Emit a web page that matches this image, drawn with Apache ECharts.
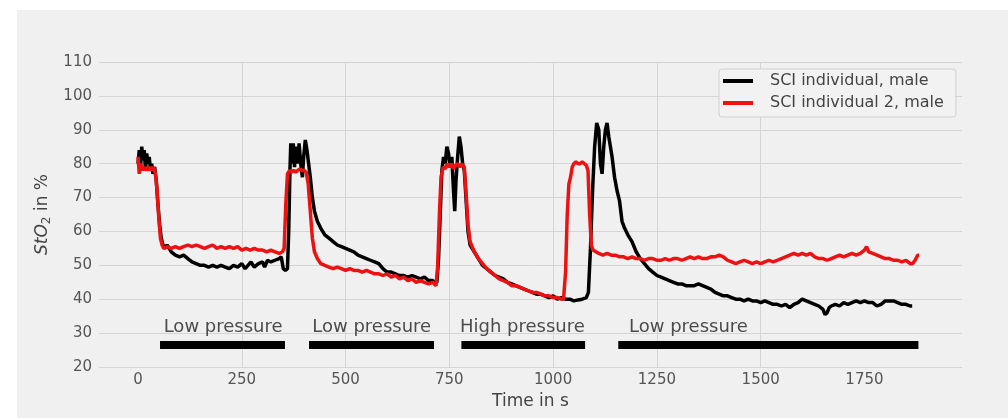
<!DOCTYPE html>
<html>
<head>
<meta charset="utf-8">
<script src="https://cdn.jsdelivr.net/npm/echarts@6/dist/echarts.min.js"></script>
<style>
html,body{margin:0;padding:0;background:#ffffff;}
#bg{position:absolute;left:17px;top:10px;width:991px;height:408px;background:#f0f0f0;}
#c{position:absolute;left:0;top:0;width:1008px;height:418px;}
</style>
</head>
<body>
<div id="bg"></div>
<div id="c"></div>
<script>
// ---- data ----
const seriesNames = ['SCI individual, male', 'SCI individual 2, male'];

const black = [[0,80],[3,84],[6,79],[9,85],[12,81],[15,84],[18,78],[21,83],[24,80],[27,82],[30,78],[33,80],[36,77],[40,79],[44,75],[48,68],[52,62],[56,58],[60,56],[65,55],[70,56],[75,55],[80,54],[90,53],[100,52.5],[110,53],[120,52],[130,51],[140,50.5],[150,50],[160,50],[170,49.5],[180,50],[190,49.5],[200,50],[210,49.5],[220,49],[230,50],[240,49.5],[250,50.5],[258,49],[265,50],[272,51],[280,49.5],[290,50.5],[300,51],[305,49.5],[312,51.5],[320,51],[330,51.5],[340,52],[345,52.5],[350,49],[355,48.5],[360,49],[363,60],[366,78],[368,86],[371,80],[374,86],[377,79],[380,85],[384,80],[388,86],[392,80],[396,76],[399,82],[403,87],[407,84],[411,80],[415,76],[420,70],[425,66],[432,63],[440,61],[450,59],[460,58],[470,57],[480,56],[490,55.5],[500,55],[510,54.5],[520,54],[530,53],[540,52.5],[550,52],[560,51.5],[570,51],[580,50.5],[590,49],[600,48],[610,48],[620,47.5],[630,47],[640,47],[650,46.5],[660,47],[670,46.5],[680,46],[690,46.5],[700,45.5],[710,45.5],[715,45],[720,45],[724,52],[728,65],[732,78],[736,82],[740,80],[744,85],[748,83],[752,79],[756,82],[760,72],[763,66],[766,75],[770,82],[774,88],[778,85],[782,80],[786,78],[790,70],[795,60],[800,56],[810,54],[820,52],[830,50],[840,49],[850,48],[860,47],[870,46.5],[880,46],[890,45],[900,44.5],[910,44],[920,43.5],[930,43],[940,42.5],[950,42],[960,41.5],[970,41.5],[980,41],[990,40.5],[1000,41],[1010,40],[1020,40.5],[1030,40],[1040,40],[1050,39.5],[1060,39.8],[1070,40],[1080,40.5],[1085,42],[1090,55],[1095,72],[1100,85],[1105,92],[1110,90],[1114,80],[1118,77],[1122,85],[1126,90],[1130,92],[1134,88],[1138,85],[1142,82],[1148,76],[1154,72],[1160,69],[1166,63],[1172,61],[1180,59],[1190,57],[1200,54],[1210,52],[1220,50.5],[1230,49],[1240,48],[1250,47],[1260,46.5],[1270,46],[1280,45.5],[1290,45],[1300,44.5],[1310,44.5],[1320,44],[1330,44],[1340,44],[1350,44.5],[1360,44],[1370,43.5],[1380,43],[1390,42],[1400,41.5],[1410,41],[1420,41],[1430,40.5],[1440,40],[1450,40],[1460,39.5],[1470,40],[1480,39.5],[1490,39.5],[1500,39],[1510,39.5],[1520,39],[1530,38.5],[1540,38.5],[1550,38],[1560,38.5],[1570,37.5],[1580,38.5],[1590,39],[1600,40],[1610,39.5],[1620,39],[1630,38.5],[1640,38],[1650,37],[1655,35.5],[1660,36],[1665,37.5],[1670,38],[1680,38.5],[1690,38],[1700,39],[1710,38.5],[1720,39],[1730,39.5],[1740,39],[1750,39.5],[1760,39],[1770,39],[1780,38],[1790,38.5],[1800,39.5],[1810,39.5],[1820,39.5],[1830,39],[1840,38.5],[1850,38.5],[1860,38],[1865,38]];

const red = [[0,82],[3,77],[6,80],[9,79],[12,78],[15,79],[18,78],[22,79],[26,78],[30,79],[34,78],[38,79],[42,77],[46,72],[50,64],[54,58],[58,56],[62,55],[70,55.5],[80,55],[90,55.5],[100,55],[110,55.5],[120,56],[130,55.5],[140,56],[150,55.5],[160,55],[170,55.5],[180,56],[190,55],[200,55.5],[210,55],[220,55.5],[230,55],[240,55.5],[250,54.5],[260,55],[270,54.5],[280,55],[290,54.5],[300,54.5],[310,54],[320,54.5],[330,54],[340,53.5],[348,54],[352,55],[356,68],[360,77],[365,78],[370,77.5],[375,78],[380,77.5],[385,78],[390,78.5],[395,78],[400,78],[405,77.5],[410,74],[415,66],[420,58],[425,54],[432,52],[440,50.5],[450,50],[460,49.5],[470,49],[480,49.5],[490,49],[500,48.5],[510,49],[520,48.5],[530,48.5],[540,48],[550,48.5],[560,48],[570,47.5],[580,47.5],[590,47],[600,47.5],[610,46.5],[620,47],[630,46],[640,46.5],[650,45.5],[660,46],[670,45],[680,45.5],[690,45],[700,44.5],[710,45],[718,44],[722,50],[726,65],[730,76],[735,79],[740,78.5],[745,80],[750,79],[755,80],[760,78.5],[765,79.5],[770,80],[775,79],[780,80],[786,79],[790,72],[795,62],[800,57],[810,54],[820,52],[830,50.5],[840,49],[850,48],[860,47],[870,46],[880,45.5],[890,45],[900,44],[910,44],[920,43.5],[930,43],[940,42.5],[950,42],[960,42],[970,41.5],[980,41],[990,41],[1000,40.5],[1010,40.5],[1020,40],[1025,40],[1030,48],[1034,65],[1038,74],[1042,76],[1046,79],[1050,80],[1055,80.5],[1060,80],[1065,80],[1070,80.5],[1075,80],[1080,79.5],[1084,78],[1088,65],[1092,56],[1096,54.5],[1100,54],[1110,53.5],[1120,53],[1130,53.5],[1140,53],[1150,53],[1160,52.5],[1170,52.5],[1180,52],[1190,52.5],[1200,52],[1210,52],[1220,51.5],[1230,52],[1240,52],[1250,51.5],[1260,51.5],[1270,52],[1280,51.5],[1290,52],[1300,52],[1310,51.5],[1320,52],[1330,52.5],[1340,52],[1350,52.5],[1360,52],[1370,52],[1380,52.5],[1390,52.5],[1400,53],[1410,52.5],[1420,51.5],[1430,51],[1440,50.5],[1450,51],[1460,51.5],[1470,51],[1480,50.5],[1490,51],[1500,50.5],[1510,51],[1520,51.5],[1530,51],[1540,51.5],[1550,52],[1560,52.5],[1570,53],[1580,53.5],[1590,53],[1600,53.5],[1610,53],[1620,53.5],[1630,52.5],[1640,52],[1650,52],[1660,51.5],[1670,52],[1680,52.5],[1690,53],[1700,52.5],[1710,53],[1720,53.5],[1730,53],[1740,53.5],[1750,54.5],[1755,55.5],[1760,54],[1770,53.5],[1780,53],[1790,52.5],[1800,52],[1810,52],[1820,51.5],[1830,51.5],[1840,51],[1850,51.5],[1860,50.5],[1866,50.5],[1872,51.5],[1878,53],[1882,53]];

// phase annotations
const phaseLabels = ['Low pressure', 'Low pressure', 'High pressure', 'Low pressure'];
const phaseStart = [53, 412, 779, 1157];
const phaseEnd = [354, 713, 1077, 1880];
const phaseLabelX = [205, 563, 926, 1326];
const phaseBarY = 26.5;
const phaseLabelY = 31.8;

const xTicks = [0, 250, 500, 750, 1000, 1250, 1500, 1750];
const yMin = 20, yMax = 110, yStep = 10;
const xMin = -94, xMax = 1985;

// ---- chart ----
const chart = echarts.init(document.getElementById('c'));
const FONT = 'DejaVu Sans';

const series = [
  { name: seriesNames[0], type: 'line', data: black, showSymbol: false, symbol: 'none',
    lineStyle: { color: '#000000', width: 3.5 }, itemStyle: { color: '#000000' }, z: 3 },
  { name: seriesNames[1], type: 'line', data: red, showSymbol: false, symbol: 'none',
    lineStyle: { color: '#ee1111', width: 3.5 }, itemStyle: { color: '#ee1111' }, z: 4 }
];
phaseStart.forEach((s, i) => {
  series.push({ type: 'line', data: [[s, phaseBarY], [phaseEnd[i], phaseBarY]], showSymbol: false, symbol: 'none',
    lineStyle: { color: '#000000', width: 8, cap: 'butt' }, silent: true, z: 5 });
});
series.push({
  type: 'scatter', symbolSize: 0, silent: true, z: 6,
  data: phaseLabels.map((t, i) => ({ value: [phaseLabelX[i], phaseLabelY], name: t })),
  label: { show: true, position: 'inside', formatter: p => p.name, color: '#222222', fontSize: 18, fontFamily: FONT }
});

chart.setOption({
  animation: false,
  textStyle: { fontFamily: FONT },
  grid: { left: 99, right: 46, top: 62, bottom: 51, containLabel: false },
  legend: {
    data: seriesNames, orient: 'vertical', left: 719, top: 69,
    icon: 'rect', itemWidth: 30, itemHeight: 4, itemGap: 6,
    padding: [4, 12, 6, 4],
    backgroundColor: '#f2f2f2', borderColor: '#cfcfcf', borderWidth: 1, borderRadius: 3,
    textStyle: { fontSize: 16, color: '#444444', fontFamily: FONT, padding: [0, 0, 0, 12] }
  },
  xAxis: {
    type: 'value', min: xMin, max: xMax,
    name: 'Time in s', nameLocation: 'middle', nameGap: 21,
    nameTextStyle: { fontSize: 17, color: '#444444', fontFamily: FONT },
    axisLine: { show: false },
    axisTick: { show: false, customValues: xTicks },
    axisLabel: { customValues: xTicks, fontSize: 15, color: '#555555', margin: 6, fontFamily: FONT,
      formatter: v => String(v) },
    splitLine: { show: true, showMinLine: false, showMaxLine: false, lineStyle: { color: '#d4d4d4', width: 1 } }
  },
  yAxis: {
    type: 'value', min: yMin, max: yMax, interval: yStep,
    name: '{i|StO}{s|2}{n| in %}', nameLocation: 'middle', nameGap: 45,
    nameTextStyle: { fontSize: 17, color: '#444444', fontFamily: FONT,
      rich: { i: { fontSize: 17, fontStyle: 'italic', color: '#444444', fontFamily: FONT },
              s: { fontSize: 12, color: '#444444', padding: [8, 0, 0, 0], fontFamily: FONT },
              n: { fontSize: 17, color: '#444444', fontFamily: FONT } } },
    axisLine: { show: false }, axisTick: { show: false },
    axisLabel: { fontSize: 15, color: '#555555', margin: 7, fontFamily: FONT },
    splitLine: { show: true, lineStyle: { color: '#d4d4d4', width: 1 } }
  },
  series: series
});
</script>
</body>
</html>
